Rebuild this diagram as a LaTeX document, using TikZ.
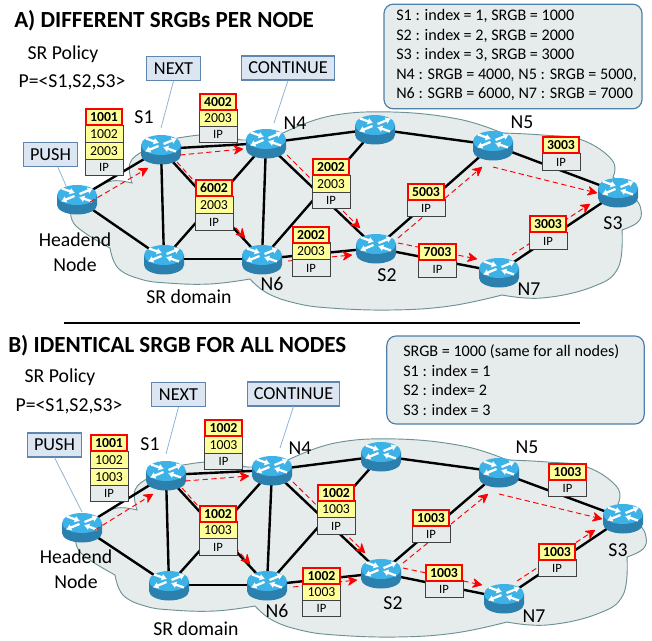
\documentclass[tikz,border=0pt]{standalone}
\usepackage{fontspec}
\setmainfont{Carlito}
\usetikzlibrary{arrows.meta,shapes.geometric}
\definecolor{cloudfill}{HTML}{E6EBEC}
\definecolor{cloudline}{HTML}{6E9196}
\definecolor{boxfill}{HTML}{DCE6F2}
\definecolor{boxline}{HTML}{5F86AE}
\definecolor{noteline}{HTML}{4F81AD}
\definecolor{rtop}{HTML}{3DB2E6}
\definecolor{rbody}{HTML}{2C80AE}
\definecolor{cellyellow}{HTML}{FFFF99}
\definecolor{leaderc}{HTML}{8DB4D6}
\tikzset{
  rnode/.style={shape=ellipse,minimum width=26pt,minimum height=18pt,inner sep=0},
  link/.style={black,line width=1.8pt},
  redarrow/.style={red,line width=.7pt,dash pattern=on 4pt off 2.6pt,
    -{Stealth[length=8pt,width=8pt,inset=2.6pt,round]}},
  cellbase/.style={minimum width=28.5pt,minimum height=12.6pt,inner sep=0,draw=black!75,line width=.7pt,font=\fontsize{10.3}{11}\selectfont},
  celly/.style={cellbase,fill=cellyellow},
  cellip/.style={cellbase,fill=cloudfill,font=\fontsize{9.5}{11}\selectfont},
  cellred/.style={cellbase,fill=cellyellow,draw=red,line width=1.5pt,font=\fontsize{10.3}{11}\selectfont\bfseries,minimum width=27.5pt,minimum height=11.8pt},
  tag/.style={draw=boxline,fill=boxfill,line width=.8pt,inner sep=0,minimum height=18pt,font=\fontsize{13.7}{15}\selectfont},
  leader/.style={leaderc,line width=.6pt},
  rlabel/.style={inner sep=0,font=\fontsize{14.8}{16}\selectfont},
  heading/.style={inner sep=0,anchor=west,font=\fontsize{17.3}{19}\selectfont\bfseries},
  note/.style={draw=noteline,fill=cloudfill,line width=.9pt,rounded corners=7pt,inner sep=0},
  notetext/.style={inner sep=0,anchor=west,align=left,font=\fontsize{12.1}{14.6}\selectfont},
  cloud/.style={draw=cloudline,fill=cloudfill,line width=.7pt}
}
\newcommand{\cloudshape}[2]{%
  \begin{scope}[shift={(#1,#2)}]
  \draw[cloud] plot[smooth,tension=.7] coordinates {(132,183) (112,181) (93,190) (74,204) (72,220) (85,233) (110,248)}
   -- plot[smooth,tension=.7] coordinates {(110,248) (118,268) (140,279) (167,283) (210,284) (250,279)}
   -- plot[smooth,tension=.7] coordinates {(250,279) (267,293) (295,303) (330,308) (392,310) (450,306) (502,295)}
   -- plot[smooth,tension=.7] coordinates {(502,295) (542,298) (592,287) (618,268) (622,230)}
   -- plot[smooth,tension=.7] coordinates {(622,230) (638,222) (641,210) (634,197) (613,177)}
   -- plot[smooth,tension=.7] coordinates {(613,177) (612,160) (582,140) (542,135) (502,133)}
   -- plot[smooth,tension=.7] coordinates {(502,133) (458,119) (392,112) (330,116) (283,133)}
   -- plot[smooth,tension=.7] coordinates {(283,133) (247,140) (225,136) (200,135) (167,140)}
   -- plot[smooth,tension=.7] coordinates {(167,140) (145,150) (130,163) (132,183)} -- cycle;
  \end{scope}}
\newcommand{\placerouter}[3]{\node[rnode] (#1) at (#2,#3) {};}
\newcommand{\rart}[1]{%
  \begin{scope}[shift={(#1.center)}]
  \fill[rbody] (-20,-4) -- (-20,6) arc[x radius=20,y radius=9.5,start angle=180,end angle=0] -- (20,-4) -- cycle;
  \fill[rtop] (0,-4) ellipse[x radius=20,y radius=10];
  \begin{scope}[white,line width=1.7pt]
   \draw[-{Latex[length=4pt,width=5.4pt]}] (-15,-10.5) -- (-2,-6);
   \draw[-{Latex[length=4pt,width=5.4pt]}] (15,2.5) -- (2,-2);
   \draw[-{Latex[length=4pt,width=5.4pt]}] (-2.5,-3) -- (-16,2.5);
   \draw[-{Latex[length=4pt,width=5.4pt]}] (2.5,-5) -- (16,-10.5);
  \end{scope}
  \end{scope}}
\newcommand{\network}[1]{%
  \foreach \u/\v in {h/sa,h/b,sa/nd,sa/b,sa/nf,nd/b,nd/nf,nd/t,nd/sb,b/nf,nf/sb,nf/t,t/ne,sb/ne,sb/ng,ne/sc,ng/sc}
    {\draw[link] (\u#1) -- (\v#1);}
  \foreach \u in {h,sa,nd,t,ne,sc,ng,sb,nf,b} {\rart{\u#1}}
  \foreach \u/\ux/\uy/\v/\vx/\vy in {h/13/3/sa/-13/19, sa/19/6/nd/-23/6, sa/16/13/nf/-17/-21, nd/21/12/sb/-16/-20, nf/26/2/sb/-24/7, sb/22/-10/ne/-11/22, sb/22/-5/ng/-22/-13, ne/0/22/sc/-21/1, ng/13/-17/sc/-28/12}
    {\draw[redarrow] ([shift={(\ux,\uy)}]\u#1.center) -- ([shift={(\vx,\vy)}]\v#1.center);}
}
\newcommand{\stackthree}[7]{%
  \node[cellip] (#1c) at (#2,#7) {IP};
  \node[celly] (#1b) at (#2,#5) {#6};
  \node[cellred] (#1a) at (#2,#3) {#4};}
\newcommand{\stacktwo}[5]{%
  \node[cellip] (#1b) at (#2,#5) {IP};
  \node[cellred] (#1a) at (#2,#3) {#4};}
\begin{document}
\begin{tikzpicture}[x=.75pt,y=-.75pt]
\useasboundingbox (0,0) rectangle (652,641);
% ---------- A
\cloudshape{0}{0}
\placerouter{ha}{77}{199}\placerouter{saa}{161}{149}\placerouter{nda}{266}{143}\placerouter{ta}{375}{129}
\placerouter{nea}{493}{145}\placerouter{sca}{618}{192}\placerouter{nga}{499}{272}\placerouter{sba}{376}{248}
\placerouter{nfa}{262}{259}\placerouter{ba}{164}{259}
\network{a}
\stackthree{pa}{104}{117}{1001}{151}{2003}{167}
\node[celly] (pax) at (104,134) {1002};
\node[cellred] (paa) at (104,117) {1001};
\stackthree{qa}{218}{102}{4002}{118}{2003}{134}
\stackthree{ra}{214}{188}{6002}{205}{2003}{222}
\stackthree{ua}{331}{167}{2002}{184}{2003}{200}
\stackthree{va}{311}{235}{2002}{251}{2003}{268}
\stacktwo{wa}{426}{192}{5003}{208}
\stacktwo{xa}{437.5}{252}{7003}{269}
\stacktwo{ya}{548}{224}{3003}{241}
\stacktwo{za}{561}{145}{3003}{162}
\node[heading] (ta1) at (14,21) {A) DIFFERENT SRGBs PER NODE};
\node[rlabel] (pola) at (63,54) {SR Policy};
\node[rlabel] (pa2) at (72,82) {P=<S1,S2,S3>};
\node[rlabel] (la1) at (144,117) {S1};
\node[rlabel] (la2) at (295,123) {N4};
\node[rlabel] (la3) at (75,240) {Headend};
\node[rlabel] (la4) at (75,265) {Node};
\node[rlabel] (la5) at (189,297) {SR domain};
\node[rlabel] (la6) at (272,284) {N6};
\node[rlabel] (la7) at (522,122) {N5};
\node[rlabel] (la8) at (387,275) {S2};
\node[rlabel] (la9) at (529,289) {N7};
\node[rlabel] (la10) at (613,223) {S3};
\node[tag,minimum width=41pt] (pusha) at (50.5,154.5) {PUSH};
\node[tag,minimum width=41pt] (nexta) at (173.5,68.5) {NEXT};
\node[tag,minimum width=69.5pt] (conta) at (288,68) {CONTINUE};
\draw[leader] ([xshift=5.5pt]pusha.south) -- ([shift={(-10,-11)}]ha.center);
\draw[leader] (nexta.south) -- ([shift={(0,-21)}]saa.center);
\draw[leader] (conta.south) -- ([shift={(8,-20)}]nda.center);
\node[note,minimum width=193.5pt,minimum height=78.5pt] (notea) at (513,56.5) {};
\node[notetext] (notetxta) at (396,55) {S1 : index = 1, SRGB = 1000\\S2 : index = 2, SRGB = 2000\\S3 : index = 3, SRGB = 3000\\N4 : SRGB = 4000, N5 : SRGB = 5000,\\N6 : SGRB = 6000, N7 : SRGB = 7000};
% ---------- separator
\coordinate (sep1) at (64,323);
\coordinate (sep2) at (580,323);
\draw[black,line width=1.4pt] (sep1) -- (sep2);
% ---------- B
\cloudshape{5}{327}
\placerouter{hb}{82}{527}\placerouter{sab}{166}{475}\placerouter{ndb}{272}{470}\placerouter{tb}{381}{456}
\placerouter{neb}{499}{472}\placerouter{scb}{623}{518}\placerouter{ngb}{504}{598}\placerouter{sbb}{381}{573}
\placerouter{nfb}{267}{585}\placerouter{bb}{169}{585}
\network{b}
\stackthree{pb}{109}{443}{1001}{477}{1003}{493}
\node[celly] (pbx) at (109,460) {1002};
\node[cellred] (pba) at (109,443) {1001};
\stackthree{qb}{223.5}{428}{1002}{445}{1003}{461}
\stackthree{rb}{218}{514}{1002}{530}{1003}{547}
\stackthree{ub}{336}{493}{1002}{509}{1003}{526}
\stackthree{vb}{321.5}{576}{1002}{592}{1003}{608}
\stacktwo{wb}{431}{518}{1003}{534}
\stacktwo{xb}{444}{573}{1003}{589}
\stacktwo{yb}{557}{552}{1003}{568}
\stacktwo{zb}{567.5}{472}{1003}{488}
\node[heading] (tb1) at (8,346) {B) IDENTICAL SRGB FOR ALL NODES};
\node[rlabel] (polb) at (60,377) {SR Policy};
\node[rlabel] (pb2) at (69,406) {P=<S1,S2,S3>};
\node[rlabel] (lb1) at (150,444) {S1};
\node[rlabel] (lb2) at (300,448) {N4};
\node[rlabel] (lb3) at (76,557) {Headend};
\node[rlabel] (lb4) at (76,582) {Node};
\node[rlabel] (lb5) at (196,629) {SR domain};
\node[rlabel] (lb6) at (277,611) {N6};
\node[rlabel] (lb7) at (527,447) {N5};
\node[rlabel] (lb8) at (393,603) {S2};
\node[rlabel] (lb9) at (534,616) {N7};
\node[rlabel] (lb10) at (618,550) {S3};
\node[tag,minimum width=41pt] (pushb) at (54.5,445) {PUSH};
\node[tag,minimum width=41pt] (nextb) at (178.5,394.5) {NEXT};
\node[tag,minimum width=69.5pt] (contb) at (293.5,394) {CONTINUE};
\draw[leader] (pushb.south) -- ([shift={(0,-15)}]hb.center);
\draw[leader] (nextb.south) -- ([shift={(0,-21)}]sab.center);
\draw[leader] (contb.south) -- ([shift={(8,-22)}]ndb.center);
\node[note,minimum width=193pt,minimum height=66pt] (noteb) at (515.5,380) {};
\node[notetext] (notetxtb) at (403,380) {SRGB = 1000 (same for all nodes)\\S1 : index = 1\\S2 : index= 2\\S3 : index = 3};
\end{tikzpicture}
\end{document}
